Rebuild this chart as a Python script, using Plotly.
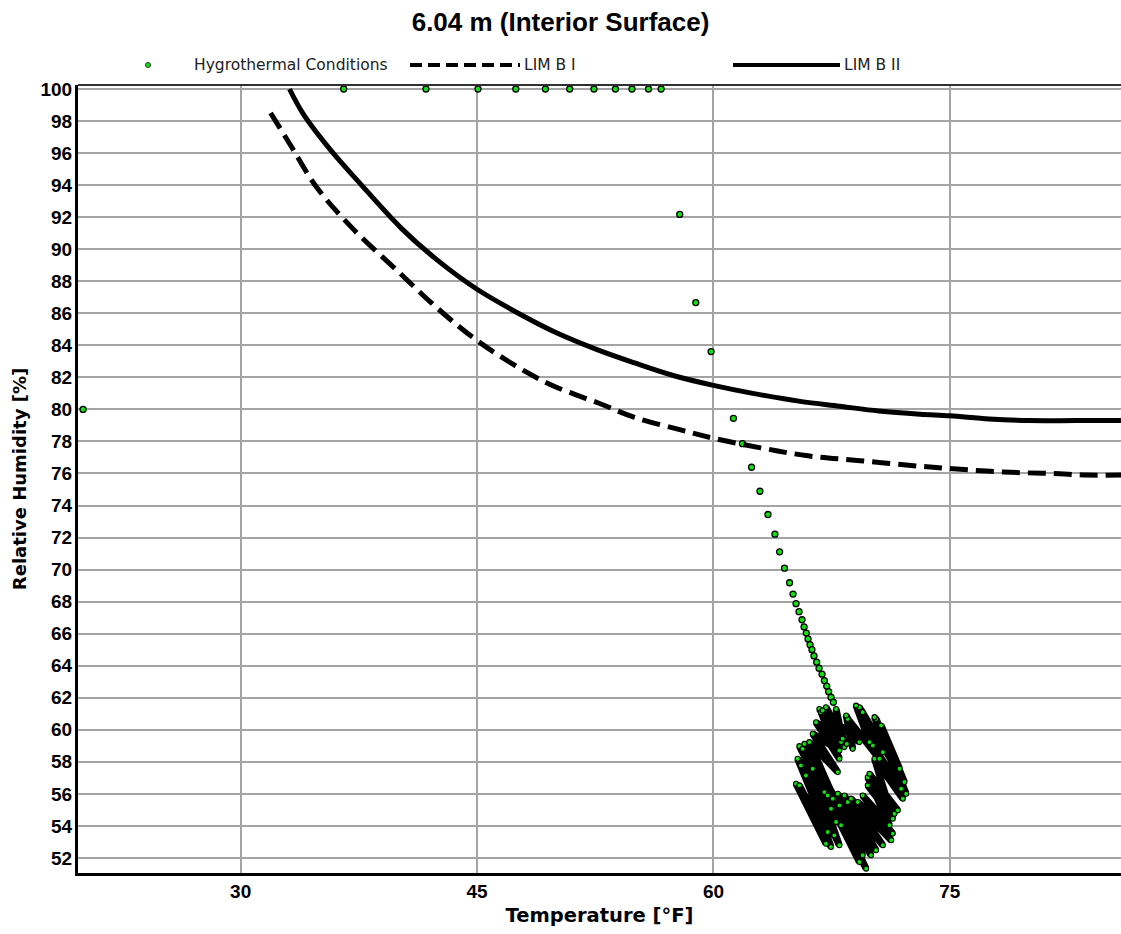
import plotly.graph_objects as go

# ---------------- data ----------------
# Hygrothermal conditions (scattered part)
hyg_temp = [20.0,
            36.54, 41.76, 45.06, 47.46, 49.34, 50.88, 52.42, 53.78, 54.83, 55.88, 56.68,
            57.86, 58.88, 59.85,
            61.27, 61.84, 62.42, 62.95, 63.46, 63.90, 64.20, 64.51, 64.83, 65.05, 65.24,
            65.43, 65.62, 65.75, 65.89, 66.00, 66.13, 66.25, 66.38, 66.55, 66.70, 66.89,
            67.04, 67.19, 67.31, 67.46, 67.61]
hyg_rh = [80.0,
          100, 100, 100, 100, 100, 100, 100, 100, 100, 100, 100,
          92.17, 86.67, 83.61,
          79.44, 77.86, 76.39, 74.89, 73.44, 72.21, 71.11, 70.09, 69.18, 68.47, 67.87,
          67.37, 66.87, 66.42, 66.04, 65.67, 65.31, 65.00, 64.61, 64.22, 63.84, 63.47,
          63.07, 62.72, 62.38, 62.03, 61.72]

# Hygrothermal conditions (dense daily/annual cycle cluster)
cyc_temp = [67.78, 68.31, 66.72, 68.10, 67.14, 68.46, 66.51, 67.99, 66.83, 67.99,
            66.30, 67.89, 66.08, 67.67, 65.45, 67.46, 65.77, 67.99, 65.66, 67.78,
            65.34, 67.25, 65.55, 67.67, 65.24, 67.14, 65.45, 67.46, 65.87, 67.99,
            66.30, 68.10, 67.04, 69.26, 67.25, 69.69, 67.57, 69.47, 67.89, 70.00,
            68.31, 70.32, 68.52, 70.75, 68.73, 71.28, 69.16, 71.38, 69.47, 71.17,
            69.79, 71.49, 69.90, 71.70, 69.79, 71.38, 70.22, 72.02, 70.11, 71.91,
            70.32, 72.23, 70.22, 71.81, 70.64, 72.12, 69.26, 70.75, 69.05, 69.90,
            69.47, 70.53, 68.52, 68.84, 68.42, 69.26, 66.93, 68.20]
cyc_rh = [61.30, 58.92, 61.30, 59.23, 61.41, 59.12, 60.47, 58.19, 61.10, 58.71,
          59.75, 57.36, 59.23, 55.70, 58.98, 55.07, 59.12, 55.28, 58.81, 54.24,
          58.19, 53.62, 57.77, 53.41, 56.63, 52.89, 56.53, 52.69, 57.15, 52.79,
          57.57, 54.04, 56.11, 51.75, 55.90, 51.33, 55.70, 52.17, 56.01, 52.17,
          55.90, 52.48, 55.49, 52.79, 55.70, 53.10, 55.49, 53.52, 55.90, 54.04,
          57.04, 54.76, 57.25, 54.97, 56.53, 54.45, 58.19, 55.70, 59.02, 56.32,
          60.68, 56.01, 60.79, 57.57, 60.27, 56.74, 61.41, 58.60, 61.51, 59.23,
          61.10, 58.19, 60.68, 58.81, 60.89, 59.23, 61.20, 59.44]

# Limit curves
limb1_temp = [31.9, 33.1, 34.8, 37.1, 40.0, 42.5, 45.0, 48.0, 50.0, 52.7, 55.0, 57.8,
              60.0, 63.0, 66.0, 69.3, 73.1, 75.2, 77.3, 79.5, 81.6, 83.7, 85.9]
limb1_rh = [98.5, 96.6, 93.9, 91.3, 88.6, 86.3, 84.3, 82.4, 81.4, 80.4, 79.5, 78.75,
            78.2, 77.6, 77.1, 76.8, 76.45, 76.3, 76.15, 76.05, 76.0, 75.9, 75.9]

limb2_temp = [33.1, 34.0, 35.7, 37.4, 40.2, 42.5, 45.0, 48.0, 50.0, 52.7, 55.0, 57.5,
              60.0, 62.5, 65.5, 68.0, 70.5, 73.1, 75.0, 77.5, 80.0, 83.0, 85.9]
limb2_rh = [100.0, 98.4, 96.2, 94.3, 91.3, 89.3, 87.5, 85.8, 84.8, 83.7, 82.9, 82.1,
            81.5, 81.0, 80.5, 80.2, 79.9, 79.7, 79.6, 79.4, 79.3, 79.3, 79.3]

x_ticks = [30, 45, 60, 75]
y_ticks = [52, 54, 56, 58, 60, 62, 64, 66, 68, 70, 72, 74, 76, 78, 80, 82, 84, 86,
           88, 90, 92, 94, 96, 98, 100]

assert len(hyg_temp) == len(hyg_rh)
assert len(cyc_temp) == len(cyc_rh)

# ---------------- figure ----------------
W, H = 1121, 934
ML, MR, MT, MB = 78, 0, 85, 61
PW, PH = W - ML - MR, H - MT - MB

GREEN = "#12e012"
marker = dict(color=GREEN, size=6, line=dict(color="black", width=1.3))
cyc_marker = dict(color=GREEN, size=5, line=dict(color="black", width=1.1))

fig = go.Figure()
fig.add_trace(go.Scatter(x=cyc_temp, y=cyc_rh, mode="lines+markers",
                         line=dict(color="black", width=7),
                         marker=cyc_marker, showlegend=False, name="Hygrothermal Conditions"))
fig.add_trace(go.Scatter(x=hyg_temp, y=hyg_rh, mode="markers", marker=marker,
                         name="Hygrothermal Conditions", showlegend=False))
fig.add_trace(go.Scatter(x=limb1_temp, y=limb1_rh, mode="lines", name="LIM B I",
                         line=dict(color="black", width=5, dash="18px,8px", shape="spline"),
                         showlegend=False))
fig.add_trace(go.Scatter(x=limb2_temp, y=limb2_rh, mode="lines", name="LIM B II",
                         line=dict(color="black", width=5, shape="spline"),
                         showlegend=False))


def px_x(p):
    return (p - ML) / PW


def px_y(p):
    return (H - MB - p) / PH


# manual legend row
LY = 65
shapes = [
    dict(type="circle", xref="paper", yref="paper",
         x0=px_x(145.5), x1=px_x(150.5), y0=px_y(67.5), y1=px_y(62.5),
         fillcolor=GREEN, line=dict(color="#204020", width=1)),
    dict(type="line", xref="paper", yref="paper",
         x0=px_x(410), x1=px_x(520), y0=px_y(LY), y1=px_y(LY),
         line=dict(color="black", width=4, dash="12px,6px")),
    dict(type="line", xref="paper", yref="paper",
         x0=px_x(733), x1=px_x(840), y0=px_y(LY), y1=px_y(LY),
         line=dict(color="black", width=4)),
    # top border
    dict(type="line", xref="paper", yref="paper", x0=0, x1=1, y0=1, y1=1,
         line=dict(color="#303030", width=2)),
]
leg_font = dict(family="DejaVu Sans", size=15.5, color="#222222")
annotations = [
    dict(text="Hygrothermal Conditions", x=px_x(192), y=px_y(LY), xref="paper", yref="paper",
         xanchor="left", yanchor="middle", showarrow=False, font=leg_font),
    dict(text="LIM B I", x=px_x(522), y=px_y(LY), xref="paper", yref="paper",
         xanchor="left", yanchor="middle", showarrow=False, font=leg_font),
    dict(text="LIM B II", x=px_x(842), y=px_y(LY), xref="paper", yref="paper",
         xanchor="left", yanchor="middle", showarrow=False, font=leg_font),
]

tick_font = dict(family="Arial", size=19, color="black", weight="bold")

fig.update_layout(
    width=W, height=H,
    margin=dict(l=ML, r=MR, t=MT, b=MB, autoexpand=False),
    paper_bgcolor="white", plot_bgcolor="white",
    title=dict(text="6.04 m (Interior Surface)", x=0.5, xref="container", xanchor="center",
               y=1 - 22 / H, yref="container", yanchor="middle",
               font=dict(family="Arial", size=26, color="black", weight="bold")),
    shapes=shapes, annotations=annotations, showlegend=False,
)
fig.update_xaxes(range=[19.68, 85.86], tickvals=x_ticks, ticktext=[str(v) for v in x_ticks],
                 showgrid=True, gridcolor="#a4a4a4", gridwidth=1.5, zeroline=False,
                 showline=True, linecolor="black", linewidth=3, ticks="",
                 tickfont=tick_font, automargin=False, ticklabelstandoff=-1,
                 title=dict(text="Temperature [°F]", standoff=8,
                            font=dict(family="DejaVu Sans", size=19.5, color="black",
                                      weight="bold")))
fig.update_yaxes(range=[51.06, 100.25], tickvals=y_ticks, ticktext=[str(v) for v in y_ticks],
                 showgrid=True, gridcolor="#a4a4a4", gridwidth=1.5, zeroline=False,
                 showline=True, linecolor="black", linewidth=3, ticks="",
                 tickfont=tick_font, automargin=False, ticklabelstandoff=-1,
                 title=dict(text="Relative Humidity [%]", standoff=10,
                            font=dict(family="DejaVu Sans", size=18, color="black",
                                      weight="bold")))

fig.write_html("out.html", config={"displayModeBar": False},
               post_script="document.body.style.margin='0';"
                           "document.body.style.overflow='hidden';")
